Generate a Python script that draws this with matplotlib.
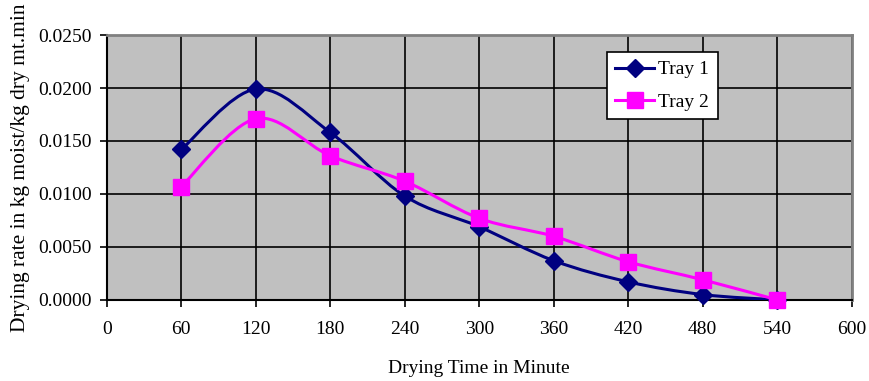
import matplotlib.pyplot as plt
import numpy as np
from matplotlib.path import Path
from matplotlib.patches import PathPatch
from matplotlib.lines import Line2D

plt.rcParams["font.family"] = ["Liberation Serif", "DejaVu Serif"]

time_min = [60, 120, 180, 240, 300, 360, 420, 480, 540]
tray1 = [0.0142, 0.0199, 0.0158, 0.0098, 0.0069, 0.0037, 0.0017, 0.0005, 0.0000]
tray2 = [0.0107, 0.0171, 0.0136, 0.0112, 0.0077, 0.0060, 0.0036, 0.0019, 0.0000]
x_ticks = [0, 60, 120, 180, 240, 300, 360, 420, 480, 540, 600]
y_ticks = [0.0, 0.005, 0.010, 0.015, 0.020, 0.025]


def smooth_path(xs, ys):
    """Excel-style smoothed line: cubic Bezier through the points."""
    pts = np.column_stack([xs, ys]).astype(float)
    n = len(pts)
    verts = [pts[0]]
    codes = [Path.MOVETO]
    for i in range(n - 1):
        p0 = pts[max(i - 1, 0)]
        p1 = pts[i]
        p2 = pts[i + 1]
        p3 = pts[min(i + 2, n - 1)]
        c1 = p1 + (p2 - p0) / 6.0
        c2 = p2 - (p3 - p1) / 6.0
        verts += [c1, c2, p2]
        codes += [Path.CURVE4] * 3
    return Path(verts, codes)


fig = plt.figure(figsize=(8.69, 3.81), dpi=100)
ax = fig.add_axes([0.123, 0.213, 0.857, 0.695])
ax.set_facecolor("#C0C0C0")

series = [
    ("Tray 1", tray1, "#000080", "D", 9),
    ("Tray 2", tray2, "#FF00FF", "s", 11),
]
handles = []
for k, (name, ys, color, marker, ms) in enumerate(series):
    z = 3 + k
    ax.add_patch(PathPatch(smooth_path(time_min, ys), facecolor="none",
                           edgecolor=color, lw=2.2, zorder=z))
    ax.plot(time_min, ys, ls="none", marker=marker, ms=ms, color=color,
            mec=color, zorder=z, clip_on=False)
    handles.append(Line2D([], [], color=color, lw=2.2, marker=marker,
                          ms=ms, label=name))

ax.set_xlim(0, 600)
ax.set_ylim(0, 0.025)
ax.set_xticks(x_ticks)
ax.set_yticks(y_ticks)
ax.set_yticklabels([f"{v:.4f}" for v in y_ticks])
ax.grid(True, color="black", lw=1.2, zorder=1)
ax.set_axisbelow(True)
ax.tick_params(direction="out", length=5, width=1.2, labelsize=14,
               colors="black", pad=6)
ax.tick_params(axis="x", pad=10)

for side in ("top", "right"):
    ax.spines[side].set_color("#808080")
    ax.spines[side].set_linewidth(2)
for side in ("left", "bottom"):
    ax.spines[side].set_color("black")
    ax.spines[side].set_linewidth(1.5)

ax.set_xlabel("Drying Time in Minute", fontsize=14, labelpad=16)
ax.set_ylabel("Drying rate in kg moist/kg dry mt.min", fontsize=15.5,
              labelpad=6)

leg = ax.legend(handles=handles, loc="upper left",
                bbox_to_anchor=(0.671, 0.936), fontsize=14, frameon=True,
                fancybox=False, edgecolor="black", framealpha=1,
                handlelength=2.0, handletextpad=0.2, borderpad=0.45,
                labelspacing=0.75, borderaxespad=0)
leg.get_frame().set_linewidth(1.2)

fig.savefig("out.png", dpi=100)
